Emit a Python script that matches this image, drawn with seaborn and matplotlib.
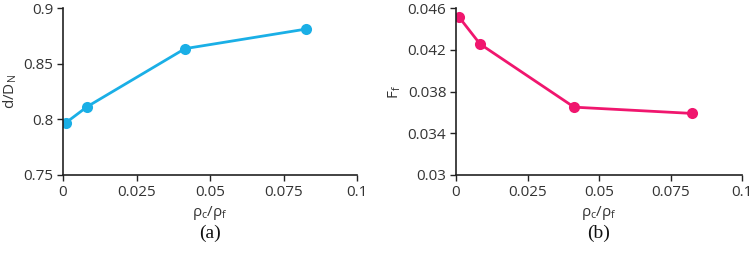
import matplotlib
matplotlib.use("Agg")
import matplotlib.pyplot as plt
import seaborn as sns
import pandas as pd

# Data
x_a = [0.001, 0.0083, 0.0415, 0.0825]
y_a = [0.797, 0.8115, 0.8635, 0.881]
x_b = [0.001, 0.0084, 0.0413, 0.0825]
y_b = [0.04515, 0.04255, 0.0365, 0.0359]

xticks = [0, 0.025, 0.05, 0.075, 0.1]
xticklabels = ["0", "0.025", "0.05", "0.075", "0.1"]
yticks_a = [0.75, 0.8, 0.85, 0.9]
yticklabels_a = ["0.75", "0.8", "0.85", "0.9"]
yticks_b = [0.03, 0.034, 0.038, 0.042, 0.046]
yticklabels_b = ["0.03", "0.034", "0.038", "0.042", "0.046"]

sns.set_style("ticks")
plt.rcParams['font.family'] = ['Open Sans', 'DejaVu Sans']

fig = plt.figure(figsize=(7.52, 2.54), dpi=100)
ax1 = fig.add_axes([63/752, 79/254, 294/752, 167/254])
ax2 = fig.add_axes([456/752, 79/254, 286/752, 167/254])

col_a = "#1AAFE6"
col_b = "#F0166E"

df_a = pd.DataFrame({"x": x_a, "y": y_a})
df_b = pd.DataFrame({"x": x_b, "y": y_b})

sns.lineplot(data=df_a, x="x", y="y", ax=ax1, color=col_a, marker="o",
             markersize=8, markeredgewidth=0, linewidth=2)
sns.lineplot(data=df_b, x="x", y="y", ax=ax2, color=col_b, marker="o",
             markersize=8, markeredgewidth=0, linewidth=2)

specs = [
    (ax1, yticks_a, yticklabels_a, (0.75, 0.9), "d/D$_\\mathregular{N}$", "(a)"),
    (ax2, yticks_b, yticklabels_b, (0.03, 0.046), "F$_\\mathregular{f}$", "(b)"),
]
for ax, yt, ytl, ylim, ylab, tag in specs:
    ax.set_xlim(0, 0.1)
    ax.set_ylim(*ylim)
    ax.set_xticks(xticks)
    ax.set_xticklabels(xticklabels)
    ax.set_yticks(yt)
    ax.set_yticklabels(ytl)
    ax.tick_params(axis="both", labelsize=11, length=4, width=1, color="#222222",
                   labelcolor="#333333", pad=3)
    for s in ["left", "bottom"]:
        ax.spines[s].set_color("#222222")
        ax.spines[s].set_linewidth(1.2)
    sns.despine(ax=ax)
    ax.set_xlabel("ρ$_\\mathregular{c}$/ρ$_\\mathregular{f}$", fontsize=11, color="#333333", labelpad=3)
    ax.set_ylabel(ylab, fontsize=11, color="#333333", labelpad=3)
    ax.text(0.5, -0.30, tag, transform=ax.transAxes, ha="center", va="top",
            fontsize=14, family="Liberation Serif", color="#111111")

fig.savefig("out.png", dpi=100)
